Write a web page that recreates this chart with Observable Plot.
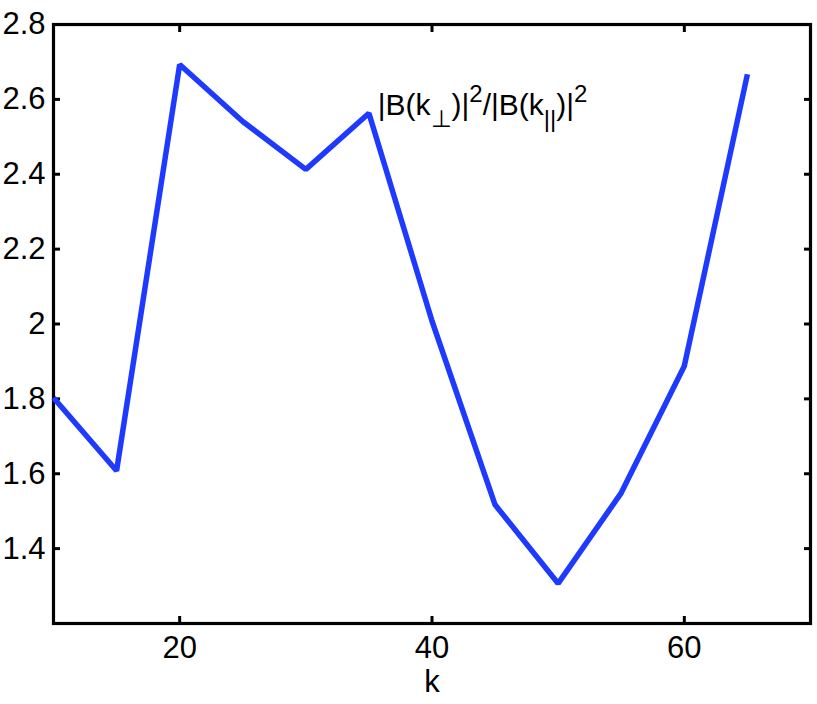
<!DOCTYPE html>
<html><head><meta charset="utf-8">
<script src="https://cdn.jsdelivr.net/npm/d3@7"></script>
<script src="https://cdn.jsdelivr.net/npm/@observablehq/plot@0.6"></script>
<style>body{margin:0;background:#fff}</style>
</head><body><div id="chart"></div>
<script>
const k = [10, 15, 20, 25, 30, 35, 40, 45, 50, 55, 60, 65];
const ratio = [1.803, 1.608, 2.693, 2.541, 2.413, 2.563, 2.008, 1.517, 1.307, 1.549, 1.888, 2.667];
const xTicks = [20, 40, 60];
const yTicks = [1.4, 1.6, 1.8, 2.0, 2.2, 2.4, 2.6, 2.8];
const xDomain = [10, 70];
const yDomain = [1.2, 2.8];
const xLabel = "k";
const annotationX = [35.7];
const annotationY = [2.585];
const annotationText = ["|B(k⊥)|²/|B(k||)|²"];

const data = k.map((d, i) => ({k: d, r: ratio[i]}));
const ann = annotationX.map((x, i) => ({x, y: annotationY[i], t: annotationText[i]}));
const font = "Liberation Sans, Arial, Helvetica, sans-serif";

const chart = Plot.plot({
  width: 817, height: 704,
  marginLeft: 53, marginRight: 7, marginTop: 24, marginBottom: 81,
  style: {fontSize: "31px", fontFamily: font, background: "#fff", color: "#000"},
  x: {domain: xDomain},
  y: {domain: yDomain},
  marks: [
    Plot.axisX({ticks: xTicks, anchor: "bottom", tickSize: -7, tickPadding: 19, strokeWidth: 3,
      tickFormat: d => String(d), label: xLabel, labelAnchor: "center", labelArrow: "none", labelOffset: 68}),
    Plot.axisX({ticks: xTicks, anchor: "top", tickSize: -7, strokeWidth: 3, tickFormat: () => "", label: null}),
    Plot.axisY({ticks: yTicks, anchor: "left", tickSize: -7, tickPadding: 15, strokeWidth: 3,
      tickFormat: d => (Math.round(d * 10) / 10).toString(), label: null}),
    Plot.axisY({ticks: yTicks, anchor: "right", tickSize: -7, strokeWidth: 3, tickFormat: () => "", label: null}),
    Plot.frame({stroke: "#000", strokeWidth: 3.2}),
    Plot.line(data, {x: "k", y: "r", stroke: "#1f3aff", strokeWidth: 5.5, strokeLinejoin: "miter", strokeLinecap: "butt"}),
    Plot.text(ann, {x: "x", y: "y", text: "t", textAnchor: "start", fontSize: 30, fill: "#000", className: "annot"})
  ]
});
document.getElementById("chart").appendChild(chart);

// rich formatting of the annotation (subscripts / superscripts)
d3.select(chart).selectAll(".annot text").each(function() {
  const el = d3.select(this);
  el.text("");
  const parts = [
    ["|B(k", 0], ["⊥", 1], [")|", 0], ["2", 2], ["/|B(k", 0], ["||", 1], [")|", 0], ["2", 2]
  ];
  let cur = 0;
  for (const [s, kind] of parts) {
    const target = kind === 1 ? 0.42 : kind === 2 ? -0.42 : 0;
    const ts = el.append("tspan").text(s).attr("dy", (target - cur) + "em");
    if (kind) ts.attr("font-size", "0.8em").attr("dy", ((target - cur) / 0.8) + "em");
    cur = target;
  }
});
</script></body></html>
